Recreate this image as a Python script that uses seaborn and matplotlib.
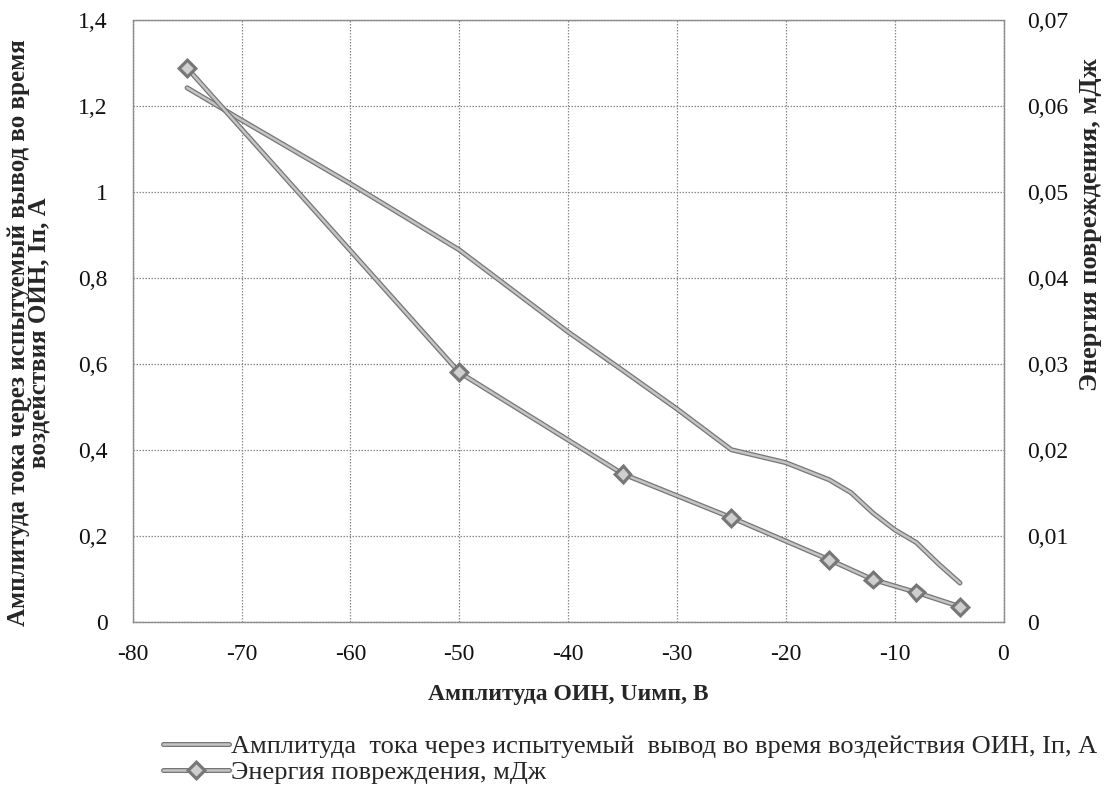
import matplotlib
matplotlib.use("Agg")
import matplotlib.pyplot as plt
import matplotlib.patheffects as pe
from matplotlib.ticker import FuncFormatter, MultipleLocator
import seaborn as sns
import pandas as pd

# ---- data ----
u_current = [-75, -70, -60, -50, -40, -35, -30, -25, -20, -16, -14, -12, -10, -8, -6, -4]
i_current = [1.242, 1.167, 1.019, 0.865, 0.674, 0.585, 0.495, 0.40, 0.37, 0.33, 0.30, 0.253, 0.214, 0.184, 0.135, 0.09]

u_energy = [-75, -50, -35, -25, -16, -12, -8, -4]
energy = [0.0644, 0.029, 0.0172, 0.0121, 0.0072, 0.0049, 0.0034, 0.00175]

label_current = "Амплитуда  тока через испытуемый  вывод во время воздействия ОИН, Iп, А"
label_energy = "Энергия повреждения, мДж"
xlabel = "Амплитуда ОИН, Uимп, В"
ylabel_left = "Амплитуда тока через испытуемый вывод во время\nвоздействия ОИН, Iп, А"
ylabel_right = "Энергия повреждения, мДж"

sns.set_theme(style="white")
plt.rcParams["font.family"] = ["Liberation Serif", "DejaVu Serif"]
plt.rcParams["axes.unicode_minus"] = False

df_cur = pd.DataFrame({"u": u_current, "i": i_current})
df_en = pd.DataFrame({"u": u_energy, "e": energy})

fig = plt.figure(figsize=(11.15, 7.96), dpi=100)
ax = fig.add_subplot(111)
fig.subplots_adjust(left=0.119, right=0.9, top=0.975, bottom=0.219)
ax2 = ax.twinx()

line_pe = [pe.Stroke(linewidth=3.6, foreground="#767676"), pe.Normal()]

sns.lineplot(data=df_cur, x="u", y="i", ax=ax, color="#c4c4c4", linewidth=1.8,
             label=label_current, legend=False)
sns.lineplot(data=df_en, x="u", y="e", ax=ax2, color="#c4c4c4", linewidth=1.8,
             marker="D", markersize=7, markerfacecolor="#cfcfcf",
             markeredgecolor="#7a7a7a", markeredgewidth=1.0,
             label=label_energy, legend=False)
for ln in ax.get_lines() + ax2.get_lines():
    ln.set_path_effects(line_pe)

# axes ranges / ticks
ax.set_xlim(-80, 0)
ax.set_ylim(0, 1.4)
ax2.set_ylim(0, 0.07)
ax.xaxis.set_major_locator(MultipleLocator(10))
ax.yaxis.set_major_locator(MultipleLocator(0.2))
ax2.yaxis.set_major_locator(MultipleLocator(0.01))


def comma_fmt(v, pos):
    s = f"{v:.2f}".rstrip("0").rstrip(".")
    if s in ("-0", ""):
        s = "0"
    return s.replace(".", ",")


def int_fmt(v, pos):
    return str(int(round(v)))


ax.yaxis.set_major_formatter(FuncFormatter(comma_fmt))
ax2.yaxis.set_major_formatter(FuncFormatter(comma_fmt))
ax.xaxis.set_major_formatter(FuncFormatter(int_fmt))

ax.tick_params(axis="x", labelsize=17, length=0, pad=16, colors="#111111")
ax.tick_params(axis="y", labelsize=17, length=0, pad=18, colors="#111111")
ax2.tick_params(axis="y", labelsize=17, length=0, pad=17, colors="#111111")

# grid and frame
ax.grid(True, which="major", linestyle=(0, (1.2, 1.2)), color="#8a8a8a", linewidth=0.9)
ax2.grid(False)
for a in (ax, ax2):
    for sp in a.spines.values():
        sp.set_linestyle((0, (1.2, 1.2)))
        sp.set_color("#8a8a8a")
        sp.set_linewidth(0.9)

# labels
ax.set_xlabel(xlabel, fontsize=17, fontweight="bold", labelpad=14)
ax.set_ylabel(ylabel_left, fontsize=18, fontweight="bold", linespacing=0.95)
ax.yaxis.set_label_coords(-0.093, 0.48)
ax2.set_ylabel(ylabel_right, fontsize=19, fontweight="bold", rotation=90)
ax2.yaxis.set_label_coords(1.087, 0.66)

# legend
handles = ax.get_lines() + ax2.get_lines()
labels = [h.get_label() for h in handles]
fig.legend(handles, labels, loc="center left", bbox_to_anchor=(0.146, 0.046),
           frameon=False, fontsize=19, handlelength=2.5, handletextpad=0.1,
           borderpad=0, labelspacing=0.12, borderaxespad=0)

fig.savefig("out.png", dpi=100, facecolor="white")
